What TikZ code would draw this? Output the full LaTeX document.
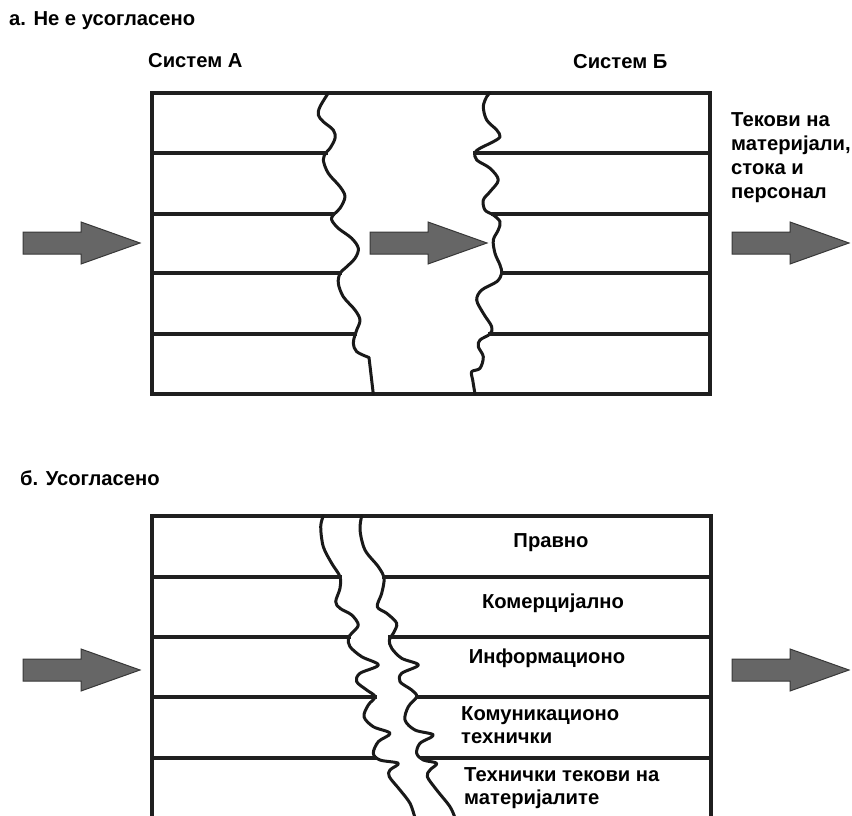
\documentclass[tikz,border=0pt]{standalone}
\usepackage{fontspec}
\setmainfont{Liberation Sans}
\begin{document}
\begin{tikzpicture}[x=1pt,y=-1pt,
  frame/.style={draw=black!88, line width=3.5pt, line cap=rect},
  thickframe/.style={frame, line width=4.3pt},
  seam/.style={draw=black!90, line width=3pt, line cap=round, line join=round},
  flowarrow/.style={fill=black!60, draw=black!78, line width=1pt, line join=miter},
  lbl/.style={font=\fontsize{20.2}{24}\selectfont\bfseries, inner sep=0pt},
  multi/.style={lbl, align=left},
  tightmulti/.style={multi, font=\fontsize{20.2}{23}\selectfont\bfseries}
]
\useasboundingbox (0,0) rectangle (852,816);

% arrow shape: tail at the origin, pointing right
\tikzset{flow/.pic={
  \path[flowarrow] (0,-11) -- (58,-11) -- (58,-21) -- (117,0) -- (58,21) -- (58,11) -- (0,11) -- cycle;}}

% ---------------- a) not harmonised ----------------
\node[lbl, anchor=base west] (titleA) at (9,26) {а. Не е усогласено};
\node[lbl, anchor=base west] (sysA) at (148,68) {Систем А};
\node[lbl, anchor=base west] (sysB) at (573,69) {Систем Б};
% multi-line nodes: the base anchor sits on the last line
\node[multi, anchor=base west] (flows) at (731,198) {Текови на\\материјали,\\стока и\\персонал};

% outer frame of the upper block
\draw[frame] (152,93) -- (710,93) -- (710,394) -- (152,394) -- cycle;

% left broken edge
\draw[seam] plot[smooth, tension=0.55] coordinates {
  (328.3,93) (320,106.7) (318.3,115) (323.3,121.7) (333.3,130) (335,138.3)
  (330,148.3) (326,152.7) (323.3,160) (328.3,173.3) (340,186.7) (345,196.7)
  (340,208.3) (333.3,215) (331.7,220) (338.3,228.3) (351.7,238.3) (358.3,248.3)
  (355,258.3) (345,268.3) (340,273.3) (338.3,283.3) (343.3,296.7) (355,310)
  (360,320) (356.7,330) (355,335) (353.3,343.3) (356.7,351.7) (369,357.5)}
  -- (373.3,394);

% right broken edge
\draw[seam] plot[smooth, tension=0.55] coordinates {
  (490,93) (486.7,96.7) (483.3,106.7) (486.7,120) (496.7,130) (500,136.7)
  (493.3,141.7) (480,148.3) (475,152.7) (476.7,160) (490,168.3) (498.3,180)
  (490,191.7) (483.3,200) (485,210) (493.3,215) (500,221.7) (498.3,230)
  (493.3,240) (495,253.3) (500,265) (501.7,273.3) (496.7,281.7) (481.7,290)
  (476.7,300) (483.3,313.3) (491.7,326.7) (490,334) (480,340) (478.3,346.7)
  (483.3,356.7) (480,368.3) (471.7,371.7) (472.7,380) (475,394)};

% layer lines of system A and system B
\draw[frame] (152,153) -- (326,153);
\draw[frame] (152,214) -- (333,214);
\draw[frame] (152,273) -- (340,273);
\draw[frame] (152,334) -- (355,334);
\draw[frame] (475,153) -- (710,153);
\draw[frame] (493,214) -- (710,214);
\draw[frame] (502,273) -- (710,273);
\draw[frame] (490,334) -- (710,334);

% flow arrows
\pic at (23,243) {flow};
\pic at (370,243) {flow};
\pic at (732,243) {flow};

% ---------------- b) harmonised ----------------
\node[lbl, anchor=base west] (titleB) at (20,485) {б. Усогласено};

\draw[thickframe] (152,816) -- (152,516) -- (711,516) -- (711,816);

% left broken edge
\draw[seam] plot[smooth, tension=0.55] coordinates {
  (323.3,516) (320.7,526.7) (323.3,546.7) (331.7,563.3) (340,576.7) (340,588.3)
  (335.7,601.7) (340,608.3) (351.7,615) (358.3,625) (351.7,633.3) (348.3,638.3)
  (350,646.7) (361.7,656.7) (378.3,665) (360,673.3) (356.7,681.7) (366.7,690)
  (375,696.7) (368.3,705) (364,716.7) (373.3,726.7) (390,733.3) (378.3,741.7)
  (373.3,753.3) (380,760) (398.3,763.3) (390,770) (389.3,776.7) (400,790)
  (410,803.3) (415,818)};

% right broken edge
\draw[seam] plot[smooth, tension=0.55] coordinates {
  (361.7,516) (360,530) (365,550) (378.3,566.7) (384,578.3) (381.7,593.3)
  (377.3,606.7) (386.7,613.3) (396.7,623.3) (393.3,633.3) (389.3,640)
  (391.7,648.3) (401.7,658.3) (418.3,665) (401.7,673.3) (400,681.7)
  (411.7,690) (416.7,696.7) (408.3,706.7) (405,720) (415,730) (433.3,735)
  (420,743.3) (416.7,753.3) (423.3,760) (436.7,763.3) (430,770) (427.3,776.7)
  (436.7,790) (450,806.7) (455,818)};

% layer lines
\draw[thickframe] (152,577) -- (340,577);
\draw[thickframe] (152,637) -- (349,637);
\draw[thickframe] (152,697) -- (375,697);
\draw[thickframe] (152,758) -- (375,758);
\draw[thickframe] (384,577) -- (711,577);
\draw[thickframe] (390,637) -- (711,637);
\draw[thickframe] (417,697) -- (711,697);
\draw[thickframe] (422,758) -- (711,758);

% layer names
\node[lbl] (lay1) at (551,543) {Правно};
\node[lbl] (lay2) at (553,603) {Комерцијално};
\node[lbl] (lay3) at (547,658) {Информационо};
\node[tightmulti, anchor=base west] (lay4) at (461,743) {Комуникационо\\технички};
\node[tightmulti, anchor=base west] (lay5) at (464,804) {Технички текови на\\материјалите};

% flow arrows
\pic at (23,670) {flow};
\pic at (732,670) {flow};
\end{tikzpicture}
\end{document}
